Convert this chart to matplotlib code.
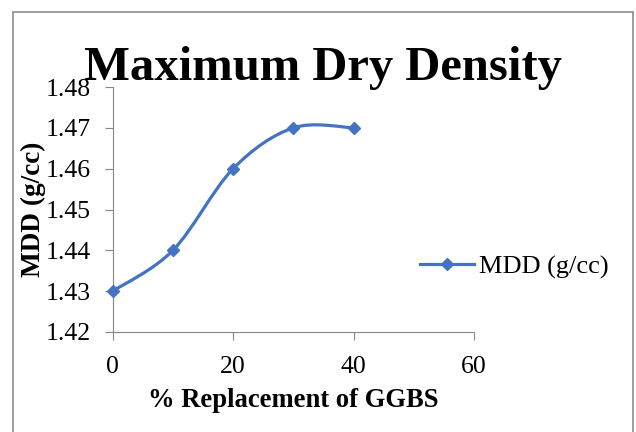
import numpy as np
import matplotlib.pyplot as plt
from matplotlib.path import Path
from matplotlib.patches import PathPatch, Rectangle
from matplotlib.lines import Line2D

# data
replacement = [0, 10, 20, 30, 40]
mdd = [1.43, 1.44, 1.46, 1.47, 1.47]
x_ticks = [0, 20, 40, 60]
y_ticks = [1.42, 1.43, 1.44, 1.45, 1.46, 1.47, 1.48]

blue = '#4472C4'
grey = '#868686'
plt.rcParams['font.family'] = ['Liberation Serif', 'DejaVu Serif']

W, H = 636, 432
fig = plt.figure(figsize=(W/100, H/100), dpi=100)
# axes box in pixels: x 112.7..474, y 87..332
ax = fig.add_axes([112.7/W, 1 - 332/H, 361.3/W, 245/H])

#
## excel style smoothed line: bezier segments through the points
pts = np.column_stack([replacement, mdd])
ext = np.vstack([pts[0], pts, pts[-1]])
verts = [tuple(pts[0])]
codes = [Path.MOVETO]
for i in range(len(pts) - 1):
    p0, p1, p2, p3 = ext[i], ext[i+1], ext[i+2], ext[i+3]
    c1 = p1 + (p2 - p0) / 6
    c2 = p2 - (p3 - p1) / 6
    verts += [tuple(c1), tuple(c2), tuple(p2)]
    codes += [Path.CURVE4] * 3
ax.add_patch(PathPatch(Path(verts, codes), fill=False, edgecolor=blue, lw=2.3, clip_on=False))
ax.plot(replacement, mdd, ls='none', marker='D', ms=6, color=blue, clip_on=False, zorder=3)

ax.set_xlim(0, 60)
ax.set_ylim(1.42, 1.48)
ax.set_xticks(x_ticks)
ax.set_yticks(y_ticks)
ax.set_yticklabels(['%.2f' % v for v in y_ticks])
for s in ['top', 'right']:
    ax.spines[s].set_visible(False)
for s in ['left', 'bottom']:
    ax.spines[s].set_color(grey)
ax.tick_params(axis='both', colors=grey, labelcolor='black', labelsize=18.5, length=6)
ax.tick_params(axis='x', pad=11)
ax.tick_params(axis='y', pad=10)
ax.set_xlabel('% Replacement of GGBS', fontsize=19.2, fontweight='bold')
ax.set_ylabel('MDD (g/cc)', fontsize=19.6, fontweight='bold')
ax.xaxis.set_label_coords(0.5, -(388 - 332) / 245)
ax.yaxis.set_label_coords((46 - 112.7) / 361.3, 0.5)

fig.text(323/W, 1 - 80/H, 'Maximum Dry Density', ha='center', va='baseline',
         fontsize=35, fontweight='bold')

handle = Line2D([], [], color=blue, lw=2.3, marker='D', ms=6)
fig.legend([handle], ['MDD (g/cc)'], loc='center left', bbox_to_anchor=(420/W, 1 - 267/H),
           frameon=False, fontsize=19, handlelength=2.05, handletextpad=0.2,
           borderpad=0, borderaxespad=0)

#
## chart border, open at the bottom like the cropped reference
fig.patches.append(Rectangle((13/W, -0.1), (633-13)/W, 1 - 12/H + 0.1, transform=fig.transFigure,
                             fill=False, edgecolor='#8c8c8c', lw=1.2))

fig.savefig('out.png', dpi=100)
